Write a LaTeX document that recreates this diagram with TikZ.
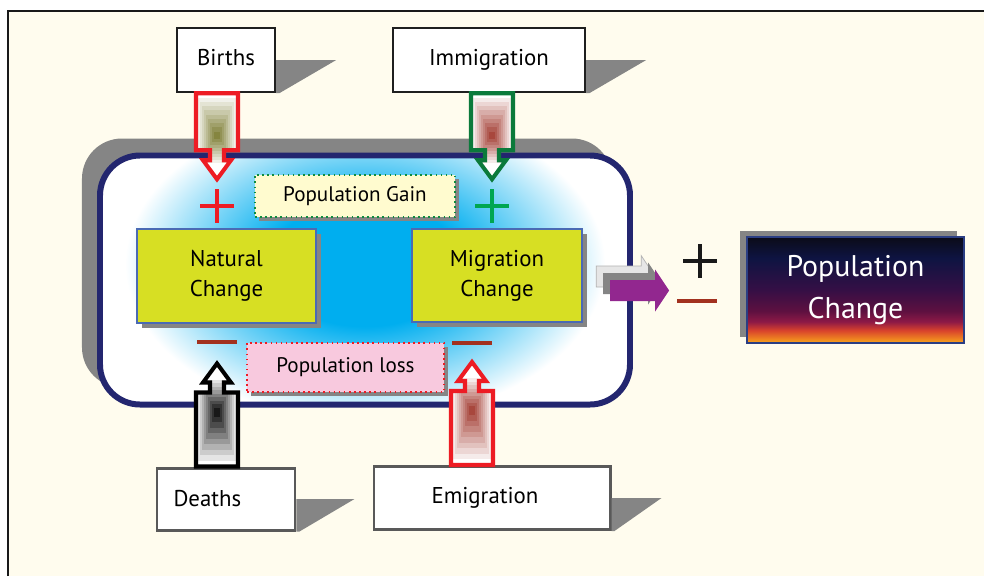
\documentclass[tikz,border=0pt]{standalone}
\usepackage{fontspec}
\setmainfont{PT Sans}
\usepackage{xcolor}
\usepackage{tikz}
\usetikzlibrary{calc,shadows}
\definecolor{cream}{HTML}{FFFCEE}
\definecolor{shadowgray}{HTML}{858585}
\definecolor{poolnavy}{HTML}{23266F}
\definecolor{glowblue}{HTML}{00AEEF}
\definecolor{limefill}{HTML}{D7DF23}
\definecolor{limeline}{HTML}{4A6AB4}
\definecolor{gainfill}{HTML}{FFFBCF}
\definecolor{gainline}{HTML}{0F8C3F}
\definecolor{lossfill}{HTML}{F8C9DE}
\definecolor{plusred}{HTML}{ED1C24}
\definecolor{plusgreen}{HTML}{00A651}
\definecolor{immgreen}{HTML}{0B7A3B}
\definecolor{minusbrown}{HTML}{A2311F}
\definecolor{popmagenta}{HTML}{92278F}
\definecolor{arrowlight}{HTML}{E6E6E6}
\definecolor{olivecore}{HTML}{77772A}
\definecolor{rustcore}{HTML}{9E3328}
\definecolor{skyline}{HTML}{2B3E83}
\definecolor{skyblack}{HTML}{0B0B18}
\definecolor{skynavy}{HTML}{0E1442}
\definecolor{skyviolet}{HTML}{350F45}
\definecolor{skyplum}{HTML}{5E1040}
\definecolor{skycrimson}{HTML}{8E1A46}
\definecolor{skyred}{HTML}{D8422C}
\definecolor{skyorange}{HTML}{F9A51B}
\pgfdeclareradialshading{poolglow}{\pgfpoint{0bp}{0bp}}{color(0bp)=(glowblue); color(8bp)=(glowblue); color(20bp)=(white); color(50bp)=(white)}
\pgfdeclareverticalshading{popsky}{100bp}{color(0bp)=(skyorange); color(25bp)=(skyorange); color(31bp)=(skyred); color(35bp)=(skycrimson); color(40bp)=(skyplum); color(50bp)=(skyviolet); color(65bp)=(skynavy); color(75bp)=(skyblack); color(100bp)=(skyblack)}
\tikzset{
  poolbox/.style={draw=poolnavy,line width=3.4pt,fill=white,rounded corners=8mm,
    general shadow={fill=shadowgray,shadow xshift=-3.6mm,shadow yshift=3.4mm},
    path picture={\shade[shading=poolglow] ([yshift=3.2mm]path picture bounding box.center) ellipse [x radius=6cm,y radius=3.9cm];}},
  tallybox/.style={draw=black!88,fill=white,line width=1.4pt},
  changebox/.style={draw=limeline,fill=limefill,line width=1.3pt,align=center,font=\fontsize{13}{17}\selectfont,
    general shadow={fill=shadowgray,shadow xshift=1mm,shadow yshift=-1mm}},
  notebox/.style={dotted,line width=0.9pt,font=\fontsize{12}{14}\selectfont,
    general shadow={fill=shadowgray,shadow xshift=0.8mm,shadow yshift=-0.8mm}},
  skybox/.style={draw=skyline,line width=0.9pt,shade,shading=popsky,text=white,align=center,font=\fontsize{17}{24}\selectfont,
    general shadow={fill=shadowgray,shadow xshift=-1.4mm,shadow yshift=1.2mm}},
  signline/.style={line width=2.3pt},
  flowline/.style={line width=2.3pt,line join=miter},
  sidelight/.style={fill=arrowlight,draw=black!30,line width=0.4pt},
  sidegray/.style={fill=shadowgray},
  sidemain/.style={fill=popmagenta},
  plusmark/.pic={\draw (-17,0) -- (17,0) (0,-17) -- (0,17);},
  minusmark/.pic={\draw (-20,0) -- (20,0);}
}
% block arrow: base, direction (1 down, -1 up), shaft length, outline, core colour
\newcommand{\flowarrow}[5]{%
  \begin{scope}[shift={(#1)},yscale=#2]
    \begin{scope}
      \clip (-21,0) -- (21,0) -- (21,#3) -- (7,#3) -- (7,#3+10) -- (14,#3+10) -- (0,#3+29)
        -- (-14,#3+10) -- (-7,#3+10) -- (-7,#3) -- (-21,#3) -- cycle;
      \fill[white] (-21,0) rectangle (21,#3+29);
      \foreach \i in {1,...,9}
        \fill[#5!\i0!white] (-21+2*\i,0.075*#3*\i) rectangle (21-2*\i,{0.75*#3+(0.25*#3+16)*(1-\i/10)});
    \end{scope}
    \draw[flowline,#4] (-21,0) -- (21,0) -- (21,#3) -- (7,#3) -- (7,#3+10) -- (14,#3+10) -- (0,#3+29)
      -- (-14,#3+10) -- (-7,#3+10) -- (-7,#3) -- (-21,#3) -- cycle;
  \end{scope}}

\begin{document}
\begin{tikzpicture}[x=0.2mm,y=-0.2mm,font=\fontsize{13}{16}\selectfont]
  \useasboundingbox (0,0) rectangle (984,576);
  \fill[cream] (8,11) rectangle (984,576);
  \draw[line width=1.4pt,black!90] (8,576) -- (8,11) -- (984,11);
  % the pool of change
  \node[poolbox,minimum width=106mm,minimum height=49.8mm] (pool) at (365,280) {};
  \node[notebox,draw=gainline,fill=gainfill,minimum width=40mm,minimum height=8.4mm] (gain) at (355,196) {Population Gain};
  \node[notebox,draw=plusred,fill=lossfill,minimum width=39.4mm,minimum height=9.8mm] (loss) at (345.5,367.5) {Population loss};
  \node[changebox,minimum width=35.8mm,minimum height=18.8mm] (natural) at (226.5,276) {Natural\\Change};
  \node[changebox,minimum width=34mm,minimum height=18.6mm] (migration) at (497,275.5) {Migration\\Change};
  \coordinate (natplus) at (217,206);
  \coordinate (migplus) at (492,206);
  \coordinate (natminus) at (217,342);
  \coordinate (migminus) at (472,343);
  \pic[plusred,signline] at (natplus) {plusmark};
  \pic[plusgreen,signline] at (migplus) {plusmark};
  \pic[minusbrown,line width=2.6pt] at (natminus) {minusmark};
  \pic[minusbrown,line width=2.6pt] at (migminus) {minusmark};
  % sources of gain and loss
  \node[tallybox,minimum width=19.6mm,minimum height=12.8mm] (births) at (226,60) {Births\vphantom{g}};
  \node[tallybox,minimum width=38.4mm,minimum height=12.8mm] (immig) at (489,60) {Immigration};
  \node[tallybox,draw=black!65,line width=1.7pt,minimum width=27.6mm,minimum height=12.4mm,text width=21mm] (deaths) at (226,499) {Deaths};
  \node[tallybox,draw=black!65,line width=1.7pt,minimum width=47.2mm,minimum height=12.6mm] (emig) at (492,498) {Emigration\kern2.8mm};
  \foreach \b/\w in {births/60,immig/60,deaths/58,emig/50}
    \fill[shadowgray] (\b.east) -- ++(\w,0) -- ([xshift=0.6mm]\b.south east) -- (\b.south east) -- cycle;
  \flowarrow{births.south -| natplus}{1}{57}{plusred}{olivecore}
  \flowarrow{immig.south -| migplus}{1}{57}{immgreen}{rustcore}
  \flowarrow{deaths.north -| natminus}{-1}{74}{black}{black}
  \flowarrow{emig.north -| migminus}{-1}{74}{plusred}{rustcore}
  % net result
  \foreach \d/\s in {14/sidelight,7/sidegray,0/sidemain}
    \path[\s] ($(migration.east)+(27-\d,4.5-\d)$) -- ++(45,0) -- ++(0,-10.5) -- ++(14,21)
      -- ++(-14,21) -- ++(0,-10.5) -- ++(-45,0) -- cycle;
  \coordinate (netplus) at (700,261);
  \coordinate (netminus) at (697,301);
  \pic[black!90,line width=2pt] at (netplus) {plusmark};
  \pic[minusbrown,line width=2.6pt] at (netminus) {minusmark};
  \node[skybox,minimum width=43.4mm,minimum height=21.2mm] (popchange) at (855.5,290) {Population\\Change};
\end{tikzpicture}
\end{document}
